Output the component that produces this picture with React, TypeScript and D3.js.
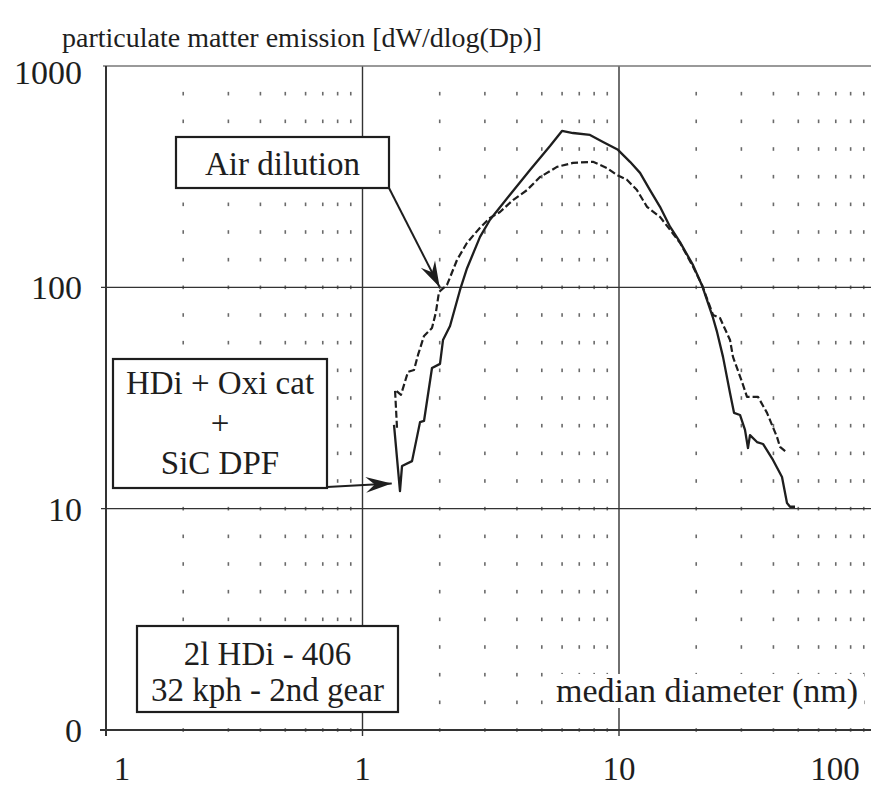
import React from "react";
import * as d3 from "d3";

// ---- data ----
const xTickValues = [0.1, 1, 10, 100];
const xTickLabels = ["1", "1", "10", "100"];
const yTickValues = [1, 10, 100, 1000];
const yTickLabels = ["0", "10", "100", "1000"];

// HDi + Oxi cat + SiC DPF (solid)
const dpfDiameter = [1.327, 1.4, 1.426, 1.56, 1.676, 1.737, 1.866, 2.005, 2.06, 2.194, 2.4, 2.556, 2.872, 3.141, 3.758, 4.498, 5.383, 5.994, 6.617, 7.707, 8.665, 9.91, 11.04, 12.08, 13.21, 14.45, 15.81, 17.29, 19.44, 21.07, 23.26, 24.11, 25.44, 27.09, 28.08, 29.63, 30.99, 31.83, 32.41, 34.51, 36.42, 39.84, 43.2, 45.18, 46.42, 48.56];
const dpfEmission = [23.9, 12.0, 15.6, 16.4, 24.6, 24.9, 43.2, 45.1, 57.8, 66.9, 97.3, 122, 169, 202, 262, 339, 435, 509, 498, 488, 454, 418, 369, 329, 275, 231, 188, 160, 126, 102, 72.7, 62.9, 48.5, 33.3, 27.1, 26.5, 22.7, 18.8, 21.5, 20.0, 19.6, 16.6, 13.9, 10.6, 10.2, 10.2];

// Air dilution (dashed)
const airDiameter = [1.363, 1.339, 1.413, 1.504, 1.588, 1.646, 1.737, 1.866, 1.934, 1.987, 2.135, 2.336, 2.556, 2.872, 3.141, 3.436, 3.861, 4.378, 4.92, 5.731, 6.617, 7.917, 8.978, 9.82, 10.74, 11.75, 12.86, 14.45, 15.81, 17.29, 19.44, 21.07, 23.26, 24.76, 27.09, 27.82, 30.17, 31.55, 34.83, 37.76, 41.3, 42.43, 45.18];
const airEmission = [23.2, 34.4, 32.7, 41.5, 42.3, 49.5, 60.3, 65.5, 77.4, 95.3, 102.5, 133, 159, 186, 206, 219, 248, 275, 315, 350, 365, 369, 346, 322, 306, 275, 231, 208, 182, 159, 124, 102.5, 75.0, 72.7, 57.8, 48.5, 37.4, 32.0, 32.0, 27.1, 21.1, 19.0, 17.9];

const minorDecades = [0.1, 1, 10];
const minorMultipliers = [2, 3, 4, 5, 6, 7, 8, 9];

const titleText = "particulate matter emission [dW/dlog(Dp)]";
const xAxisTitle = "median diameter (nm)";
const airLabel = ["Air dilution"];
const dpfLabel = ["HDi + Oxi cat", "+", "SiC DPF"];
const condLabel = ["2l HDi - 406", "32 kph - 2nd gear"];

const FONT = "'Liberation Serif', 'Times New Roman', serif";
const INK = "#1e1e1e";

function arrowHead(tip: [number, number], from: [number, number], len = 26, half = 8, notch = 9) {
  const dx = tip[0] - from[0];
  const dy = tip[1] - from[1];
  const L = Math.hypot(dx, dy);
  const ux = dx / L, uy = dy / L;
  const px = -uy, py = ux;
  const bx = tip[0] - ux * len, by = tip[1] - uy * len;
  const nx = tip[0] - ux * (len - notch), ny = tip[1] - uy * (len - notch);
  return `M${tip[0]},${tip[1]} L${bx + px * half},${by + py * half} L${nx},${ny} L${bx - px * half},${by - py * half} Z`;
}

export default function App() {
  const W = 871, H = 786;
  const x = d3.scaleLog().domain([0.1, 100]).range([106, 875.5]);
  const y = d3.scaleLog().domain([1, 1000]).range([730, 66]);
  const right = W;

  const line = d3
    .line<[number, number]>()
    .x((d) => x(d[0]))
    .y((d) => y(d[1]));

  const dpf = dpfDiameter.map((d, i) => [d, dpfEmission[i]] as [number, number]);
  const air = airDiameter.map((d, i) => [d, airEmission[i]] as [number, number]);

  const minorX = minorDecades.flatMap((d) => minorMultipliers.map((m) => d * m));
  const dotRows = d3.range(0, 24).map((k) => Math.pow(10, k / 8));

  // annotation geometry
  const airBox = { x0: 176, y0: 137, x1: 389, y1: 188 };
  const dpfBox = { x0: 113, y0: 359, x1: 327, y1: 488 };
  const condBox = { x0: 137, y0: 626, x1: 398, y1: 712 };
  const airTip: [number, number] = [x(2.0), y(100)];
  const airFrom: [number, number] = [airBox.x1, airBox.y1];
  const dpfTip: [number, number] = [x(1.3), y(13)];
  const dpfFrom: [number, number] = [dpfBox.x1, dpfBox.y1 - 1];

  return (
    <svg
      width={W}
      height={H}
      viewBox={`0 0 ${W} ${H}`}
      style={{ position: "absolute", left: 0, top: 0, background: "#fff" }}
      fontFamily={FONT}
    >
      <rect x={0} y={0} width={W} height={H} fill="#fff" />

      {/* title */}
      <text x={62} y={47} fontSize={28} fill={INK}>
        {titleText}
      </text>

      {/* dotted minor verticals */}
      <g fill="#6a6a6a">
        {minorX.map((v) =>
          dotRows.map((r) => (
            <rect key={`${v}-${r}`} x={x(v) - 0.8} y={y(r) - 1.8} width={1.6} height={3.6} />
          ))
        )}
      </g>

      {/* major grid */}
      <g stroke="#333" strokeWidth={1.4}>
        {[1, 10].map((v) => (
          <line key={`vx${v}`} x1={x(v)} x2={x(v)} y1={y(1000)} y2={y(1) + 6} />
        ))}
        {[10, 100].map((v) => (
          <line key={`hy${v}`} x1={x(0.1) - 5} x2={right} y1={y(v)} y2={y(v)} />
        ))}
      </g>
      <line x1={x(0.1) - 3} x2={right} y1={y(1000)} y2={y(1000)} stroke="#777" strokeWidth={1.5} />
      {/* axes */}
      <line x1={x(0.1)} x2={x(0.1)} y1={y(1000)} y2={y(1) + 6} stroke="#333" strokeWidth={2} />
      <line x1={x(0.1) - 6} x2={right} y1={y(1)} y2={y(1)} stroke="#333" strokeWidth={2.2} />

      {/* y tick labels */}
      {yTickValues.map((v, i) => (
        <text
          key={`yl${v}`}
          x={82}
          y={Math.max(y(v), 72)}
          dy="0.35em"
          textAnchor="end"
          fontSize={34}
          fill={INK}
        >
          {yTickLabels[i]}
        </text>
      ))}
      {/* x tick labels */}
      {xTickValues.map((v, i) => (
        <text
          key={`xl${v}`}
          x={Math.min(Math.max(x(v), 122), 835)}
          y={768}
          dy="0.35em"
          textAnchor="middle"
          fontSize={33}
          fill={INK}
        >
          {xTickLabels[i]}
        </text>
      ))}

      {/* x axis title */}
      <rect x={552} y={674} width={312} height={34} fill="#fff" />
      <text x={707} y={690} dy="0.35em" textAnchor="middle" fontSize={34} fill={INK}>
        {xAxisTitle}
      </text>

      {/* series */}
      <path d={line(air) || ""} fill="none" stroke={INK} strokeWidth={2.2} strokeDasharray="7 3" strokeLinejoin="round" />
      <path d={line(dpf) || ""} fill="none" stroke={INK} strokeWidth={2.3} strokeLinejoin="round" />

      {/* annotation boxes */}
      <rect x={airBox.x0} y={airBox.y0} width={airBox.x1 - airBox.x0} height={airBox.y1 - airBox.y0} fill="#fff" stroke={INK} strokeWidth={2.2} />
      {airLabel.map((t, i) => (
        <text key={t} x={(airBox.x0 + airBox.x1) / 2} y={163 + i * 40} dy="0.35em" textAnchor="middle" fontSize={33} fill={INK}>
          {t}
        </text>
      ))}
      <rect x={dpfBox.x0} y={dpfBox.y0} width={dpfBox.x1 - dpfBox.x0} height={dpfBox.y1 - dpfBox.y0} fill="#fff" stroke={INK} strokeWidth={2.2} />
      {dpfLabel.map((t, i) => (
        <text key={t} x={(dpfBox.x0 + dpfBox.x1) / 2} y={382 + i * 40} dy="0.35em" textAnchor="middle" fontSize={33} fill={INK}>
          {t}
        </text>
      ))}
      <rect x={condBox.x0} y={condBox.y0} width={condBox.x1 - condBox.x0} height={condBox.y1 - condBox.y0} fill="#fff" stroke={INK} strokeWidth={2.2} />
      {condLabel.map((t, i) => (
        <text key={t} x={(condBox.x0 + condBox.x1) / 2} y={653 + i * 36} dy="0.35em" textAnchor="middle" fontSize={33} fill={INK}>
          {t}
        </text>
      ))}

      {/* arrows */}
      <line x1={airFrom[0]} y1={airFrom[1]} x2={airTip[0]} y2={airTip[1]} stroke={INK} strokeWidth={2} />
      <path d={arrowHead(airTip, airFrom)} fill={INK} />
      <line x1={dpfFrom[0]} y1={dpfFrom[1]} x2={dpfTip[0]} y2={dpfTip[1]} stroke={INK} strokeWidth={2} />
      <path d={arrowHead(dpfTip, dpfFrom)} fill={INK} />
    </svg>
  );
}
